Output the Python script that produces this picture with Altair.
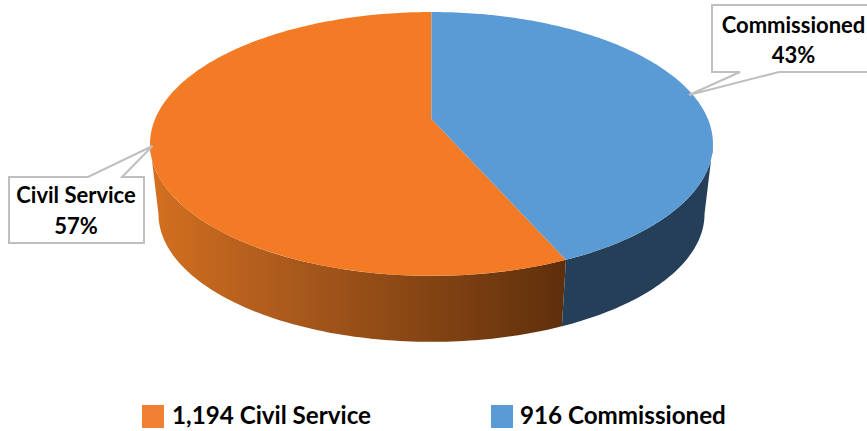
import math
import altair as alt

# Head counts per category
categories = ["Commissioned", "Civil Service"]
counts = [916, 1194]
top_colors = ["#5B9BD5", "#F47B26"]

W, H = 867, 431

# Perspective disc: hub position, half axes and foreshortening
HUB_X, HUB_Y = 431.5, 119.0
AX, BY, K = 276.4, 127.2, 0.189
# The lower rim is the upper rim scaled slightly and moved down
RIM_SCALE, RIM_Y = 0.97, 189.7
# Angle at which the upper rim is widest, measured from twelve o'clock
WIDEST = math.degrees(math.acos(-K))


def top_point(deg):
    """Point on the upper rim; deg runs clockwise from twelve o'clock."""
    a = math.radians(deg)
    u, v = math.sin(a), -math.cos(a)
    d = 1 - K * v
    return [HUB_X + AX * u / d, HUB_Y + BY * v / d]


def bottom_point(deg):
    x, y = top_point(deg)
    return [HUB_X + RIM_SCALE * (x - HUB_X), RIM_Y + RIM_SCALE * (y - HUB_Y)]


def sweep(a, b, step=1.0):
    n = max(2, int(abs(b - a) / step))
    return [a + (b - a) * i / n for i in range(n + 1)]


def feature(ring):
    closed = ring + [ring[0]]
    return {"type": "Feature", "properties": {},
            "geometry": {"type": "Polygon", "coordinates": [closed]}}


def shape(rings, **mark):
    data = alt.InlineData(values=[feature(r) for r in rings],
                          format=alt.DataFormat(type="json"))
    return alt.Chart(data).mark_geoshape(**mark).project(
        type="identity", scale=1, translate=[0, 0])


def label(rows, **mark):
    return alt.Chart(alt.Data(values=rows)).mark_text(
        font="Lato", fontWeight="bold", color="#000000", **mark
    ).encode(x=alt.X("x:Q", scale=None), y=alt.Y("y:Q", scale=None), text="t:N")


total = sum(counts)
split = 360 * counts[0] / total

# Visible outer walls, running from the widest point of the rim to the split
blue_wall = [top_point(d) for d in sweep(WIDEST, split)] + \
    [bottom_point(d) for d in sweep(split, WIDEST)]
orange_wall = [top_point(d) for d in sweep(split, 360 - WIDEST)] + \
    [bottom_point(d) for d in sweep(360 - WIDEST, split)]

# Upper faces
blue_top = [[HUB_X, HUB_Y]] + [top_point(d) for d in sweep(0, split)]
orange_top = [[HUB_X, HUB_Y]] + [top_point(d) for d in sweep(split, 360)]

wall_gradient = alt.Gradient(
    gradient="linear", x1=0, x2=1, y1=0, y2=0,
    stops=[alt.GradientStop(color="#D4701F", offset=0),
           alt.GradientStop(color="#B45F1E", offset=0.25),
           alt.GradientStop(color="#5E2F0B", offset=1)],
)

# Callouts with their pointers
civil_box = [[9, 177], [88, 177], [152.5, 146], [122, 177], [144, 177],
             [144, 243], [9, 243]]
comm_box = [[712, 5], [880, 5], [880, 72], [779, 72], [689, 95], [740, 72],
            [712, 72]]

percents = [round(100 * c / total) for c in counts]
callout_text = [
    {"x": 793.5, "y": 26, "t": categories[0]},
    {"x": 793.5, "y": 56, "t": f"{percents[0]}%"},
    {"x": 76, "y": 196, "t": categories[1]},
    {"x": 76, "y": 227, "t": f"{percents[1]}%"},
]
legend_text = [
    {"x": 172, "y": 417, "t": f"{counts[1]:,} {categories[1]}"},
    {"x": 520, "y": 417, "t": f"{counts[0]:,} {categories[0]}"},
]
swatch_orange = [[142, 405], [164, 405], [164, 428], [142, 428]]
swatch_blue = [[491, 405], [513, 405], [513, 428], [491, 428]]

chart = alt.layer(
    shape([orange_wall], fill=wall_gradient, strokeWidth=0),
    shape([blue_wall], fill="#243F57", strokeWidth=0),
    shape([orange_top], fill=top_colors[1], strokeWidth=0),
    shape([blue_top], fill=top_colors[0], strokeWidth=0),
    shape([civil_box, comm_box], fill="#FFFFFF", stroke="#BFBFBF", strokeWidth=2),
    shape([swatch_orange], fill="#F08034", strokeWidth=0),
    shape([swatch_blue], fill=top_colors[0], strokeWidth=0),
    label(callout_text, fontSize=22, align="center", baseline="middle"),
    label(legend_text, fontSize=24.2, align="left", baseline="middle"),
).properties(
    width=W, height=H, padding=0, autosize=alt.AutoSizeParams(type="none"),
    background="#FFFFFF",
).configure_view(stroke=None)

chart.save("out.html", embed_options={"renderer": "svg", "actions": False})
